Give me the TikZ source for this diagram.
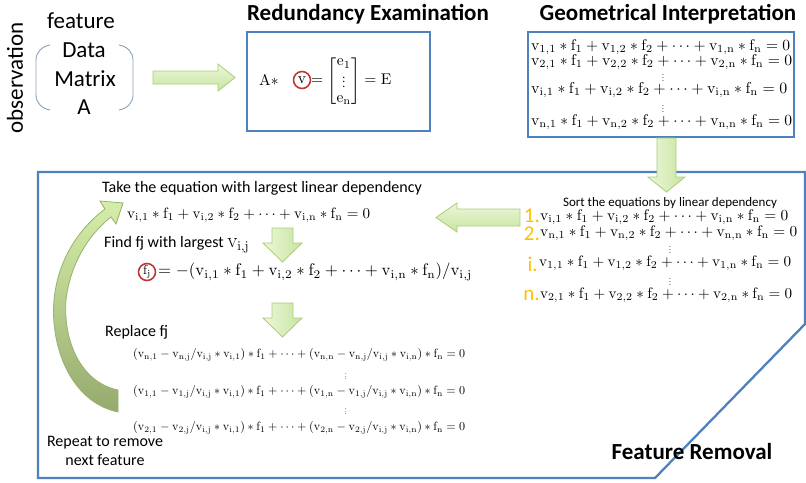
\documentclass[tikz,border=0pt]{standalone}
\usepackage[no-math]{fontspec}
\setmainfont{Carlito}
\usepackage{amsmath}
\usepackage{graphicx}
\definecolor{boxblue}{RGB}{79,129,189}
\definecolor{gtop}{RGB}{236,247,218}
\definecolor{gbot}{RGB}{200,228,160}
\definecolor{gborder}{RGB}{170,205,120}
\definecolor{ctop}{RGB}{214,238,170}
\definecolor{cbot}{RGB}{150,170,110}
\definecolor{cborder}{RGB}{150,180,110}
\definecolor{mark}{RGB}{192,57,52}
\definecolor{gold}{RGB}{255,192,0}
\definecolor{brk}{RGB}{140,160,185}
\newcommand{\vv}{\mathrm{v}}
\newcommand{\ff}{\mathrm{f}}
\newcommand{\eqw}[2]{\resizebox{#1pt}{!}{$#2$}}
\newcommand{\sdots}{\scalebox{0.75}{$\vdots$}}
\begin{document}
\begin{tikzpicture}[x=1pt,y=-1pt,
  boxline/.style={draw=boxblue, line width=2.3pt, line join=miter},
  garrow/.style={top color=gtop, bottom color=gbot, draw=gborder, line width=0.8pt},
  lbl/.style={inner sep=0pt, font=\fontsize{16}{18}\selectfont},
  big/.style={inner sep=0pt, font=\fontsize{23}{26}\selectfont},
  ttl/.style={inner sep=0pt, font=\bfseries\fontsize{23}{26}\selectfont},
  eqn/.style={inner sep=0pt, anchor=west},
  num/.style={inner sep=0pt, anchor=east, text=gold, font=\fontsize{21}{22}\selectfont},
  ring/.style={draw=mark, line width=1.6pt, circle, minimum size=17pt, inner sep=0pt}
]
\useasboundingbox[fill=white] (0,0) rectangle (806,482);

% ---------- top left: data matrix ----------
\node[big, rotate=90] (obs) at (15,78) {observation};
\node[big] (feat) at (81,21) {feature};
\node[big] (data) at (84,50) {Data};
\node[big] (matr) at (85,79) {Matrix};
\node[big] (amat) at (84,107) {A};
\coordinate (lb1) at (50,45); \coordinate (lb2) at (50,110);
\coordinate (rb1) at (119,45); \coordinate (rb2) at (119,110);
\draw[brk, line width=0.9pt] (lb1) to[out=190,in=90] (36,60) -- (36,95) to[out=-90,in=170] (lb2);
\draw[brk, line width=0.9pt] (rb1) to[out=-10,in=90] (133,60) -- (133,95) to[out=-90,in=10] (rb2);

% arrow right
\shadedraw[garrow] (153,71) -- (218,71) -- (218,64) -- (235,77.5) -- (218,91) -- (218,84) -- (153,84) -- cycle;

% ---------- Redundancy Examination ----------
\node[ttl] (t1) at (368,14) {Redundancy Examination};
\draw[boxline] (247,32) rectangle (430,131);
\node[eqn] (ra) at (259,80) {\scalebox{1.55}{$\mathrm{A}\ast$}};
\node[ring] (rv) at (302,80) {\scalebox{1.55}{$\vv$}};
\node[eqn] (rr) at (311,81) {\scalebox{1.55}{$=\renewcommand{\arraystretch}{0.78}\begin{bmatrix}\mathrm{e}_1\\ \sdots\\ \mathrm{e}_{\mathrm{n}}\end{bmatrix}=\mathrm{E}$}};

% ---------- Geometrical Interpretation ----------
\node[ttl] (t2) at (668,14) {Geometrical Interpretation};
\draw[boxline] (528,32) rectangle (794,137);
\node[eqn] (g1) at (531,47) {\eqw{259}{\vv_{1,1}\ast\ff_1+\vv_{1,2}\ast\ff_2+\cdots+\vv_{1,\mathrm{n}}\ast\ff_{\mathrm{n}}=0}};
\node[eqn] (g2) at (531,62) {\eqw{261}{\vv_{2,1}\ast\ff_1+\vv_{2,2}\ast\ff_2+\cdots+\vv_{2,\mathrm{n}}\ast\ff_{\mathrm{n}}=0}};
\node[inner sep=0pt] (gd1) at (663,76) {\sdots};
\node[eqn] (g3) at (531,90) {\eqw{256}{\vv_{\mathrm{i},1}\ast\ff_1+\vv_{\mathrm{i},2}\ast\ff_2+\cdots+\vv_{\mathrm{i},\mathrm{n}}\ast\ff_{\mathrm{n}}=0}};
\node[inner sep=0pt] (gd2) at (663,107) {\sdots};
\node[eqn] (g4) at (531,122) {\eqw{261}{\vv_{\mathrm{n},1}\ast\ff_1+\vv_{\mathrm{n},2}\ast\ff_2+\cdots+\vv_{\mathrm{n},\mathrm{n}}\ast\ff_{\mathrm{n}}=0}};

% ---------- Feature Removal box ----------
\draw[boxline] (38,172) -- (805,172) -- (805,324) -- (655,478) -- (38,478) -- cycle;
\node[ttl] (t3) at (692,452) {Feature Removal};

% arrow down from geometric box
\shadedraw[garrow, left color=gtop, right color=gbot] (657,138) -- (676,138) -- (676,177) -- (685,177) -- (666.5,192) -- (648,177) -- (657,177) -- cycle;

% sort list
\node[inner sep=0pt, font=\fontsize{13}{15}\selectfont] (sort) at (670,203) {Sort the equations by linear dependency};
\node[num] (n1) at (540,216) {1.};
\node[eqn] (s1) at (540,217) {\eqw{248}{\vv_{\mathrm{i},1}\ast\ff_1+\vv_{\mathrm{i},2}\ast\ff_2+\cdots+\vv_{\mathrm{i},\mathrm{n}}\ast\ff_{\mathrm{n}}=0}};
\node[num] (n2) at (540,234) {2.};
\node[eqn] (s2) at (540,233) {\eqw{257}{\vv_{\mathrm{n},1}\ast\ff_1+\vv_{\mathrm{n},2}\ast\ff_2+\cdots+\vv_{\mathrm{n},\mathrm{n}}\ast\ff_{\mathrm{n}}=0}};
\node[inner sep=0pt] (sd1) at (670,248) {\sdots};
\node[num] (n3) at (538,264) {i.};
\node[eqn] (s3) at (539,263) {\eqw{252}{\vv_{1,1}\ast\ff_1+\vv_{1,2}\ast\ff_2+\cdots+\vv_{1,\mathrm{n}}\ast\ff_{\mathrm{n}}=0}};
\node[inner sep=0pt] (sd2) at (670,280) {\sdots};
\node[num] (n4) at (540,295) {n.};
\node[eqn] (s4) at (540,295) {\eqw{252}{\vv_{2,1}\ast\ff_1+\vv_{2,2}\ast\ff_2+\cdots+\vv_{2,\mathrm{n}}\ast\ff_{\mathrm{n}}=0}};

% arrow left
\shadedraw[garrow] (520,209) -- (457,209) -- (457,203) -- (436,217.5) -- (457,232) -- (457,226) -- (520,226) -- cycle;

% left column of the process
\node[lbl] (take) at (262,188) {Take the equation with largest linear dependency};
\node[eqn] (me) at (127,215) {\eqw{243}{\vv_{\mathrm{i},1}\ast\ff_1+\vv_{\mathrm{i},2}\ast\ff_2+\cdots+\vv_{\mathrm{i},\mathrm{n}}\ast\ff_{\mathrm{n}}=0}};
\shadedraw[garrow, left color=gtop, right color=gbot] (272,228) -- (293,228) -- (293,243) -- (302,243) -- (282.5,262) -- (263,243) -- (272,243) -- cycle;
\node[lbl, anchor=west] (find) at (104,245) {Find fj with largest \scalebox{1.2}{$\vv_{\mathrm{i},\mathrm{j}}$}};
\node[ring] (fjr) at (147,272) {\scalebox{1.3}{$\ff_{\mathrm{j}}$}};
\node[eqn] (fje) at (158,272) {\eqw{314}{=-(\vv_{\mathrm{i},1}\ast\ff_1+\vv_{\mathrm{i},2}\ast\ff_2+\cdots+\vv_{\mathrm{i},\mathrm{n}}\ast\ff_{\mathrm{n}})/\vv_{\mathrm{i},\mathrm{j}}}};
\shadedraw[garrow, left color=gtop, right color=gbot] (272,303) -- (293,303) -- (293,318) -- (302,318) -- (282.5,337) -- (263,318) -- (272,318) -- cycle;
\node[lbl, anchor=west] (repl) at (105,332) {Replace fj};
\node[eqn] (r1) at (133,355) {\eqw{332}{(\vv_{\mathrm{n},1}-\vv_{\mathrm{n},\mathrm{j}}/\vv_{\mathrm{i},\mathrm{j}}\ast\vv_{\mathrm{i},1})\ast\ff_1+\cdots+(\vv_{\mathrm{n},\mathrm{n}}-\vv_{\mathrm{n},\mathrm{j}}/\vv_{\mathrm{i},\mathrm{j}}\ast\vv_{\mathrm{i},\mathrm{n}})\ast\ff_{\mathrm{n}}=0}};
\node[inner sep=0pt] (rd1) at (346,375) {\scalebox{0.6}{$\vdots$}};
\node[eqn] (r2) at (133,392) {\eqw{332}{(\vv_{1,1}-\vv_{1,\mathrm{j}}/\vv_{\mathrm{i},\mathrm{j}}\ast\vv_{\mathrm{i},1})\ast\ff_1+\cdots+(\vv_{1,\mathrm{n}}-\vv_{1,\mathrm{j}}/\vv_{\mathrm{i},\mathrm{j}}\ast\vv_{\mathrm{i},\mathrm{n}})\ast\ff_{\mathrm{n}}=0}};
\node[inner sep=0pt] (rd2) at (346,410) {\scalebox{0.6}{$\vdots$}};
\node[eqn] (r3) at (133,428) {\eqw{332}{(\vv_{2,1}-\vv_{2,\mathrm{j}}/\vv_{\mathrm{i},\mathrm{j}}\ast\vv_{\mathrm{i},1})\ast\ff_1+\cdots+(\vv_{2,\mathrm{n}}-\vv_{2,\mathrm{j}}/\vv_{\mathrm{i},\mathrm{j}}\ast\vv_{\mathrm{i},\mathrm{n}})\ast\ff_{\mathrm{n}}=0}};
\node[lbl] (rep1) at (105,443) {Repeat to remove};
\node[lbl] (rep2) at (105,460) {next feature};

% curved repeat arrow
\shadedraw[top color=ctop, bottom color=cbot, draw=cborder, line width=0.8pt]
  (118,412) .. controls (70,402) and (50,345) .. (54,300)
  .. controls (58,258) and (80,228) .. (105,209)
  -- (100,201) -- (123,203) -- (116,224) -- (111,217)
  .. controls (88,235) and (70,265) .. (66,300)
  .. controls (63,340) and (80,382) .. (118,390) -- cycle;
\end{tikzpicture}
\end{document}
